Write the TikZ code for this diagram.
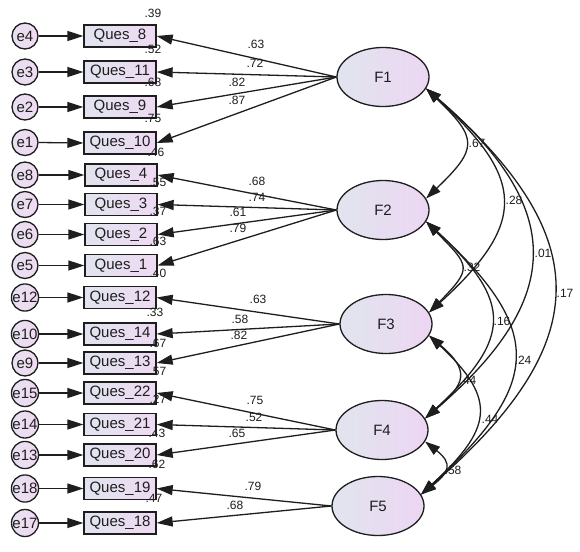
\documentclass[tikz,border=0pt]{standalone}
\usepackage{fontspec}
\setmainfont{Liberation Sans}
\usetikzlibrary{arrows.meta,shapes.geometric}
\definecolor{boxL}{HTML}{E1E4EE}
\definecolor{boxR}{HTML}{EEDAF3}
\definecolor{facL}{HTML}{E0E5EE}
\definecolor{facR}{HTML}{EDD6F3}
\definecolor{errL}{HTML}{E8E0F0}
\definecolor{errR}{HTML}{F0DAF2}
\definecolor{ink}{HTML}{1E1E1E}
\begin{document}
\begin{tikzpicture}[x=1pt,y=-1pt,
  box/.style={draw=ink, line width=1.3pt, left color=boxL, right color=boxR, minimum width=72pt, minimum height=22pt, inner sep=0pt, text=ink, font=\fontsize{15}{15}\selectfont},
  err/.style={circle, draw=ink, line width=1.3pt, left color=errL, right color=errR, minimum size=26pt, inner sep=0pt, text=ink, font=\fontsize{15}{15}\selectfont},
  fac/.style={ellipse, draw=ink, line width=1.3pt, left color=facL, right color=facR, minimum width=92pt, minimum height=59pt, inner sep=0pt, text=ink, font=\fontsize{15}{15}\selectfont},
  lab/.style={inner sep=0pt, text=ink, font=\fontsize{12}{12}\selectfont},
  conn/.style={line width=1.3pt, draw=ink},
  tip/.style={-{Triangle[length=16pt,width=10pt]}},
  dtip/.style={{Triangle[length=15pt,width=10pt]}-{Triangle[length=15pt,width=10pt]}}]
\useasboundingbox[fill=white] (0,0) rectangle (580,551);

% factors
\node[fac] (F1) at (383,77) {F1};
\node[fac] (F2) at (383,210) {F2};
\node[fac] (F3) at (386,324) {F3};
\node[fac] (F4) at (382,430) {F4};
\node[fac] (F5) at (378,506) {F5};

% observed boxes
\node[box] (q8)  at (120,36)    {Ques\_8};
\node[box] (q11) at (120,72)    {Ques\_11};
\node[box] (q9)  at (120,107)   {Ques\_9};
\node[box] (q10) at (120,143)   {Ques\_10};
\node[box] (q4)  at (121,175)   {Ques\_4};
\node[box] (q3)  at (121,204.5) {Ques\_3};
\node[box] (q2)  at (121,234.5) {Ques\_2};
\node[box] (q1)  at (121,265.5) {Ques\_1};
\node[box] (q12) at (120,297.5) {Ques\_12};
\node[box] (q14) at (120,334)   {Ques\_14};
\node[box] (q13) at (120,363)   {Ques\_13};
\node[box] (q22) at (120,393)   {Ques\_22};
\node[box] (q21) at (120,424.5) {Ques\_21};
\node[box] (q20) at (120,455)   {Ques\_20};
\node[box] (q19) at (120,488.5) {Ques\_19};
\node[box] (q18) at (120,523)   {Ques\_18};

% error terms
\node[err] (e4)  at (25,36)    {e4};
\node[err] (e3)  at (25,72)    {e3};
\node[err] (e2)  at (25,107)   {e2};
\node[err] (e1)  at (25,142.5) {e1};
\node[err] (e8)  at (25,175)   {e8};
\node[err] (e7)  at (25,204.5) {e7};
\node[err] (e6)  at (25,234.5) {e6};
\node[err] (e5)  at (25,265.5) {e5};
\node[err] (e12) at (25,297.5) {e12};
\node[err] (e10) at (25,334)   {e10};
\node[err] (e9)  at (25,363)   {e9};
\node[err] (e15) at (25,393)   {e15};
\node[err] (e14) at (25,424.5) {e14};
\node[err] (e13) at (25,455)   {e13};
\node[err] (e18) at (25,488.5) {e18};
\node[err] (e17) at (25,523)   {e17};

% error arrows
\foreach \e/\q in {e4/q8,e3/q11,e2/q9,e1/q10,e8/q4,e7/q3,e6/q2,e5/q1,e12/q12,e10/q14,e9/q13,e15/q22,e14/q21,e13/q20,e18/q19,e17/q18}
  \draw[conn,tip] (\e.east) -- (\q.west);

% loadings
\foreach \q in {q8,q11,q9,q10} \draw[conn,tip] (F1.west) -- (\q.east);
\foreach \q in {q4,q3,q2,q1} \draw[conn,tip] (F2.west) -- (\q.east);
\foreach \q in {q12,q14,q13} \draw[conn,tip] (F3.west) -- (\q.east);
\foreach \q in {q22,q21,q20} \draw[conn,tip] (F4.west) -- (\q.east);
\foreach \q in {q19,q18} \draw[conn,tip] (F5.west) -- (\q.east);

% covariances
\draw[conn,dtip] (F1.-15) .. controls +(52,50) and +(52,-50) .. (F2.15);
\draw[conn,dtip] (F1.-15) .. controls +(99,90) and +(99,-90) .. (F3.15);
\draw[conn,dtip] (F1.-15) .. controls +(140,120) and +(140,-120) .. (F4.15);
\draw[conn,dtip] (F1.-15) .. controls +(173,150) and +(173,-150) .. (F5.15);
\draw[conn,dtip] (F2.-15) .. controls +(44,45) and +(44,-45) .. (F3.15);
\draw[conn,dtip] (F2.-15) .. controls +(87,80) and +(87,-80) .. (F4.15);
\draw[conn,dtip] (F2.-15) .. controls +(120,110) and +(120,-110) .. (F5.15);
\draw[conn,dtip] (F3.-15) .. controls +(41,35) and +(41,-35) .. (F4.15);
\draw[conn,dtip] (F3.-15) .. controls +(70,65) and +(70,-65) .. (F5.15);
\draw[conn,dtip] (F4.-15) .. controls +(28,22) and +(28,-22) .. (F5.15);

% loading labels
\node[lab] (l1)  at (256,44)  {.63};
\node[lab] (l2)  at (255,63)  {.72};
\node[lab] (l3)  at (237,82)  {.82};
\node[lab] (l4)  at (237,100) {.87};
\node[lab] (l5)  at (257,181) {.68};
\node[lab] (l6)  at (257,197) {.74};
\node[lab] (l7)  at (238,212) {.61};
\node[lab] (l8)  at (238,228) {.79};
\node[lab] (l9)  at (258,299) {.63};
\node[lab] (l10) at (240,319) {.58};
\node[lab] (l11) at (239,335) {.82};
\node[lab] (l12) at (255,400) {.75};
\node[lab] (l13) at (254,417) {.52};
\node[lab] (l14) at (237,433) {.65};
\node[lab] (l15) at (253,486) {.79};
\node[lab] (l16) at (235,505) {.68};

% squared multiple correlations
\node[lab] (r1)  at (153,13)  {.39};
\node[lab] (r2)  at (153,49)  {.52};
\node[lab] (r3)  at (153,82)  {.68};
\node[lab] (r4)  at (153,118) {.75};
\node[lab] (r5)  at (156,152) {.46};
\node[lab] (r6)  at (158,182) {.55};
\node[lab] (r7)  at (158,211) {.37};
\node[lab] (r8)  at (158,241) {.63};
\node[lab] (r9)  at (158,273) {.40};
\node[lab] (r10) at (155,312) {.33};
\node[lab] (r11) at (158,343) {.67};
\node[lab] (r12) at (158,371) {.57};
\node[lab] (r13) at (158,399) {.27};
\node[lab] (r14) at (157,433) {.43};
\node[lab] (r15) at (157,464) {.62};
\node[lab] (r16) at (154,498) {.47};

% covariance labels
\node[lab] (c1)  at (477,143) {.67};
\node[lab] (c2)  at (514,200) {.28};
\node[lab] (c3)  at (543,253) {.01};
\node[lab] (c4)  at (565,293) {.17};
\node[lab] (c5)  at (472,267) {.32};
\node[lab] (c6)  at (502,321) {.16};
\node[lab] (c7)  at (523,360) {.24};
\node[lab] (c8)  at (468,380) {.44};
\node[lab] (c9)  at (490,419) {.44};
\node[lab] (c10) at (453,470) {.58};
\end{tikzpicture}
\end{document}
